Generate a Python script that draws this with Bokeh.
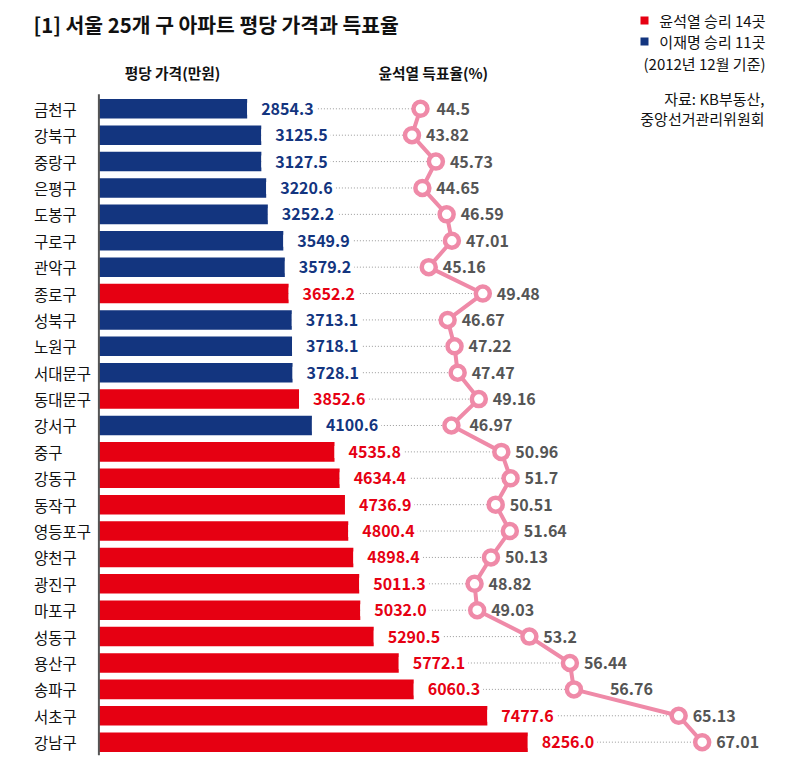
from bokeh.plotting import figure
from bokeh.models import Range1d, Label, BoxAnnotation, ColumnDataSource
from bokeh.core.properties import value
from bokeh.embed import file_html
from bokeh.resources import INLINE

districts = ["금천구", "강북구", "중랑구", "은평구", "도봉구", "구로구", "관악구", "종로구",
             "성북구", "노원구", "서대문구", "동대문구", "강서구", "중구", "강동구", "동작구",
             "영등포구", "양천구", "광진구", "마포구", "성동구", "용산구", "송파구", "서초구", "강남구"]
price = [2854.3, 3125.5, 3127.5, 3220.6, 3252.2, 3549.9, 3579.2, 3652.2, 3713.1, 3718.1,
         3728.1, 3852.6, 4100.6, 4535.8, 4634.4, 4736.9, 4800.4, 4898.4, 5011.3, 5032.0,
         5290.5, 5772.1, 6060.3, 7477.6, 8256.0]
yoon_share = [44.5, 43.82, 45.73, 44.65, 46.59, 47.01, 45.16, 49.48, 46.67, 47.22,
              47.47, 49.16, 46.97, 50.96, 51.7, 50.51, 51.64, 50.13, 48.82, 49.03,
              53.2, 56.44, 56.76, 65.13, 67.01]
winner = (["이재명"] * 7 + ["윤석열"] + ["이재명"] * 3 + ["윤석열"] + ["이재명"]
          + ["윤석열"] * 12)

title_text = "[1] 서울 25개 구 아파트 평당 가격과 득표율"
header_price = "평당 가격(만원)"
header_vote = "윤석열 득표율(%)"
legend_yoon = "윤석열 승리 14곳"
legend_lee = "이재명 승리 11곳"
legend_note = "(2012년 12월 기준)"
source_lines = ["자료: KB부동산,", "중앙선거관리위원회"]

# ---- styling ----
RED = "#e60012"
BLUE = "#13357f"
PINK = "#ef8aa8"
GRAY = "#555555"
FONT = value("Noto Sans CJK KR")
label_nudge = {"송파구": 22, "강서구": 4, "금천구": 2}

W, H = 784, 757
p_start, p_end = -1894.2, 13198.1
v_start, v_end = 10.938, 73.588

n = len(districts)
rows = list(range(n))
colors = [RED if w == "윤석열" else BLUE for w in winner]

# vote coordinate that sits on the price axis (x=0), derived from the two ranges
frac0 = (0 - p_start) / (p_end - p_start)
v_axis = v_start + frac0 * (v_end - v_start)

src = ColumnDataSource(dict(
    row=rows,
    district=districts,
    price=price,
    price_label=[f"{v:.1f}" for v in price],
    share=yoon_share,
    share_label=[str(v) for v in yoon_share],
    share_offset=[14 + label_nudge.get(d, 0) for d in districts],
    axis_v=[v_axis] * n,
    color=colors,
))

p = figure(width=W, height=H, x_range=Range1d(p_start, p_end),
           y_range=Range1d(24.581, -4.104), x_axis_type=None, y_axis_type=None,
           output_backend="svg", toolbar_location=None, min_border=0)
p.extra_x_ranges = {"vote": Range1d(v_start, v_end)}
p.grid.visible = False
p.outline_line_color = None
p.background_fill_color = "white"
p.border_fill_color = "white"

# dotted guide lines (hidden under bars / price labels)
p.segment(x0="axis_v", y0="row", x1="share", y1="row", source=src,
          x_range_name="vote", line_color="#9a9a9a", line_width=1, line_dash="1 2")

# bars
p.hbar(y="row", left=0, right="price", height=0.74, source=src,
       fill_color="color", line_color=None)

# axis line
p.segment(x0=[0], y0=[-0.55], x1=[0], y1=[24.5], line_color="#555555", line_width=2)

# district names
p.text(x=0, y="row", text="district", source=src, x_offset=-65,
       text_align="left", text_baseline="middle", text_font=FONT,
       text_font_size="15.5px", text_color="#111111")

# price labels with white box covering the guide line
p.text(x="price", y="row", text="price_label", source=src,
       text_align="left", text_baseline="middle", text_font=FONT,
       text_font_size="16px", text_font_style="bold", text_color="color",
       padding=dict(left=14, right=3, top=0, bottom=0),
       background_fill_color="white")

# vote share line + markers
p.line(x="share", y="row", source=src, x_range_name="vote",
       line_color=PINK, line_width=4)
p.scatter(x="share", y="row", source=src, x_range_name="vote", size=14,
          fill_color="white", line_color=PINK, line_width=4.5)
p.text(x="share", y="row", text="share_label", source=src, x_range_name="vote",
       x_offset="share_offset", text_align="left", text_baseline="middle",
       text_font=FONT, text_font_size="16px", text_font_style="bold",
       text_color=GRAY)

# title, headers
def lab(x, y, text, size, bold=False, align="left", color="#111111"):
    p.add_layout(Label(x=x, y=H - y, x_units="screen", y_units="screen", text=text,
                       text_font="Noto Sans CJK KR", text_font_size=size,
                       text_font_style="bold" if bold else "normal",
                       text_align=align, text_baseline="middle", text_color=color))

lab(33, 23, title_text, "20.4px", bold=True)
lab(172, 72, header_price, "14.7px", bold=True, align="center")
lab(378, 72, header_vote, "14.7px", bold=True)

# legend
for cy, col in ((20, RED), (41, BLUE)):
    p.add_layout(BoxAnnotation(left=640, right=648, top=H - (cy - 4), bottom=H - (cy + 4),
                               left_units="screen", right_units="screen",
                               top_units="screen", bottom_units="screen",
                               fill_color=col, fill_alpha=1, line_color=None))
lab(765, 20, legend_yoon, "15px", align="right")
lab(765, 41, legend_lee, "15px", align="right")
lab(765, 63, legend_note, "15px", align="right")
lab(764, 98, source_lines[0], "15px", align="right")
lab(764, 118, source_lines[1], "15px", align="right")

open("out.html", "w").write(file_html(p, INLINE))
